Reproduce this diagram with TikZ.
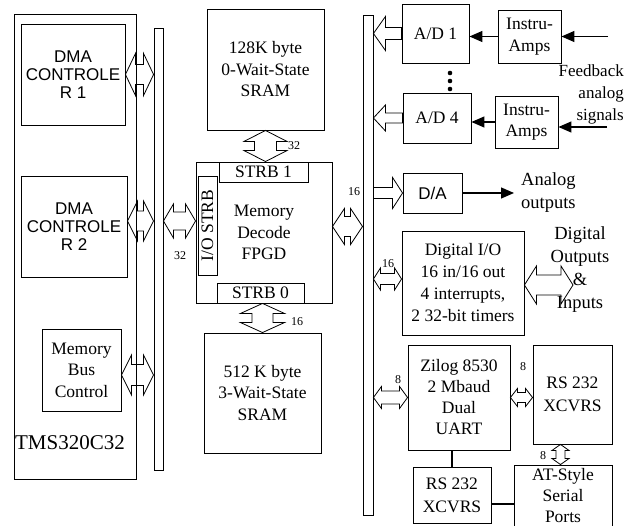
\documentclass[tikz,border=0pt]{standalone}
\usepackage{fontspec}
\setmainfont{Liberation Serif}
\setsansfont{Liberation Sans}
\usetikzlibrary{calc,arrows.meta}

% hollow double-headed bus arrow: ends, half shaft, half head, head length
\newcommand{\fatdbl}[5]{%
  \draw[fat] (#1)
    -- ($(#1)!#5!(#2)!#4!90:(#2)$)
    -- ($(#1)!#5!(#2)!#3!90:(#2)$)
    -- ($(#2)!#5!(#1)!#3!-90:(#1)$)
    -- ($(#2)!#5!(#1)!#4!-90:(#1)$)
    -- (#2)
    -- ($(#2)!#5!(#1)!#4!90:(#1)$)
    -- ($(#2)!#5!(#1)!#3!90:(#1)$)
    -- ($(#1)!#5!(#2)!#3!-90:(#2)$)
    -- ($(#1)!#5!(#2)!#4!-90:(#2)$)
    -- cycle;}
% hollow single-headed bus arrow, tip at the second end
\newcommand{\fatone}[5]{%
  \draw[fat] ($(#1)!#3!90:(#2)$)
    -- ($(#2)!#5!(#1)!#3!-90:(#1)$)
    -- ($(#2)!#5!(#1)!#4!-90:(#1)$)
    -- (#2)
    -- ($(#2)!#5!(#1)!#4!90:(#1)$)
    -- ($(#2)!#5!(#1)!#3!90:(#1)$)
    -- ($(#1)!#3!-90:(#2)$)
    -- cycle;}

\begin{document}
\begin{tikzpicture}[x=1pt,y=-1pt,
    blk/.style={draw,line width=0.9pt,inner sep=0pt,align=center,
      font=\fontsize{17.5}{21.5}\selectfont},
    sblk/.style={blk,font=\sffamily\fontsize{17}{18}\selectfont},
    txt/.style={inner sep=0pt,align=center,font=\fontsize{18.5}{23}\selectfont},
    num/.style={inner sep=0pt,font=\fontsize{12}{14}\selectfont},
    fat/.style={line width=0.8pt},
    sig/.style={line width=1.3pt,-{Triangle[length=13pt,width=11pt]}}]
    \useasboundingbox (0,0) rectangle (633,526);

    % processor side
    \node[blk,minimum width=122pt,minimum height=465pt] (tms) at (75,246.5) {};
    \node[txt,font=\fontsize{21}{24}\selectfont] (tmsname) at (70,443) {TMS320C32};
    \node[sblk,minimum width=104pt,minimum height=101pt] (dma1) at (73,74.5) {DMA\\CONTROLE\\R 1};
    \node[sblk,minimum width=106pt,minimum height=101pt] (dma2) at (74,226.5) {DMA\\CONTROLE\\R 2};
    \node[blk,minimum width=79pt,minimum height=82pt] (mbc) at (81.5,370) {Memory\\Bus\\Control};
    \node[blk,minimum width=9pt,minimum height=442pt] (bus1) at (158.5,249) {};

    % memory
    \node[blk,minimum width=117pt,minimum height=121pt] (sram1) at (265.5,69.5) {128K byte\\0-Wait-State\\SRAM};
    \node[blk,minimum width=136pt,minimum height=141pt] (dec) at (264,232.5) {Memory\\Decode\\FPGD};
    \node[blk,minimum width=89pt,minimum height=20pt] (strb1) at (263.5,172) {STRB 1};
    \node[blk,minimum width=87pt,minimum height=20pt] (strb0) at (260.5,293) {STRB 0};
    \node[blk,rotate=90,minimum width=99pt,minimum height=19pt] (iostrb) at (207.5,225.5) {I/O STRB};
    \node[blk,minimum width=117pt,minimum height=120pt] (sram2) at (262.5,393) {512 K byte\\3-Wait-State\\SRAM};

    % i/o side
    \node[blk,minimum width=10pt,minimum height=500pt] (bus2) at (368,265) {};
    \node[blk,minimum width=67pt,minimum height=59pt] (ad1) at (435.5,33.5) {A/D 1};
    \node[blk,minimum width=63pt,minimum height=53pt] (amp1) at (529.5,36.5) {Instru-\\Amps};
    \node[blk,minimum width=68pt,minimum height=50pt] (ad4) at (437,118) {A/D 4};
    \node[blk,minimum width=63pt,minimum height=52pt] (amp2) at (526.5,122) {Instru-\\Amps};
    \node[txt,align=right,anchor=east,font=\fontsize{17}{22}\selectfont] (fb) at (624,94) {Feedback\\analog\\signals};
    \node[sblk,minimum width=59pt,minimum height=40pt] (da) at (432.5,193) {D/A};
    \node[txt,align=left,anchor=west] (aout) at (521,192.5) {Analog\\outputs};
    \node[blk,minimum width=122pt,minimum height=104pt,font=\fontsize{17.5}{22}\selectfont] (dio) at (463,283) {Digital I/O\\16 in/16 out\\4 interrupts,\\2 32-bit timers};
    \node[txt] (dout) at (580,270) {Digital\\Outputs\\\&\\Inputs};
    \node[blk,minimum width=102pt,minimum height=105pt,font=\fontsize{17.5}{21}\selectfont] (zilog) at (459,397.5) {Zilog 8530\\2 Mbaud\\Dual\\UART};
    \node[blk,minimum width=79pt,minimum height=99pt,font=\fontsize{17.5}{23}\selectfont] (rs1) at (572.5,394.5) {RS 232\\XCVRS};
    \node[blk,minimum width=78pt,minimum height=56pt,font=\fontsize{17.5}{23}\selectfont] (rs2) at (452,495) {RS 232\\XCVRS};
    \node[blk,minimum width=98pt,minimum height=62pt,font=\fontsize{17.5}{21}\selectfont] (at) at (563,496) {AT-Style\\Serial\\Ports};

    \fill (450,73) circle (2.3);
    \fill (450,81) circle (2.3);
    \fill (450,89) circle (2.3);

    % bus arrows
    \coordinate (d2a) at ([yshift=5.5pt]dma2.east);
    \coordinate (mba) at ([yshift=-5pt]mbc.east);
    \coordinate (b1a) at (bus1.west |- dma1.east);
    \coordinate (b1b) at (bus1.west |- d2a);
    \coordinate (b1c) at (bus1.west |- mba);
    \coordinate (b1d) at (bus1.east |- d2a);
    \coordinate (deca) at (dec.west |- d2a);
    \coordinate (s1d) at (sram1.south |- dec.north);
    \coordinate (s2d) at (sram2.north |- dec.south);
    \coordinate (deb) at ([yshift=6pt]dec.east);
    \coordinate (b2a) at (bus2.west |- deb);
    \coordinate (b2b) at (bus2.east |- ad1.west);
    \coordinate (b2c) at (bus2.east |- ad4.west);
    \coordinate (b2d) at (bus2.east |- da.west);
    \coordinate (dioa) at ([yshift=4pt]dio.west);
    \coordinate (b2e) at (bus2.east |- dioa);
    \coordinate (diob) at ([yshift=-2pt]dio.east);
    \coordinate (dtip) at (573,285);
    \coordinate (b2f) at (bus2.east |- zilog.west);
    \coordinate (rsa) at (rs1.west |- zilog.east);
    \coordinate (rsb) at ([xshift=-12pt]rs1.south);
    \coordinate (ata) at (rsb |- at.north);

    \fatdbl{dma1.east}{b1a}{10pt}{21pt}{10pt}
    \fatdbl{d2a}{b1b}{10pt}{20pt}{10pt}
    \fatdbl{mba}{b1c}{10.5pt}{20pt}{10pt}
    \fatdbl{b1d}{deca}{9pt}{17pt}{10pt}
    \fatdbl{sram1.south}{s1d}{11pt}{21.5pt}{11pt}
    \fatdbl{s2d}{sram2.north}{10.5pt}{22pt}{10pt}
    \fatdbl{deb}{b2a}{10pt}{18pt}{12pt}
    \fatone{ad1.west}{b2b}{6pt}{17pt}{12pt}
    \fatone{ad4.west}{b2c}{5pt}{13pt}{12pt}
    \fatone{b2d}{da.west}{5.5pt}{15.5pt}{10pt}
    \fatdbl{b2e}{dioa}{5.5pt}{11pt}{7pt}
    \fatdbl{diob}{dtip}{10pt}{19pt}{12pt}
    \fatdbl{b2f}{zilog.west}{6.5pt}{11pt}{8pt}
    \fatdbl{zilog.east}{rsa}{5pt}{9pt}{7pt}
    \fatdbl{rsb}{ata}{4.5pt}{8.5pt}{6pt}

    % bus widths
    \node[num] (w1) at (180,256) {32};
    \node[num] (w2) at (294,146) {32};
    \node[num] (w3) at (297,322) {16};
    \node[num] (w4) at (354,192) {16};
    \node[num] (w5) at (388,264) {16};
    \node[num] (w6) at (398,380) {8};
    \node[num] (w7) at (523,367) {8};
    \node[num] (w8) at (543,456) {8};

    % signal lines
    \coordinate (in1) at (608,36.5);
    \coordinate (in2) at (607,127);
    \draw[sig] (amp1.west) -- (amp1.west -| ad1.east);
    \draw[sig] (in1) -- (in1 -| amp1.east);
    \draw[sig] (amp2.west) -- (amp2.west -| ad4.east);
    \draw[sig] (in2) -- (in2 -| amp2.east);
    \draw[sig,shorten >=7pt] (da.east) -- (da.east -| aout.west);
    \draw[line width=1.3pt] (rs2.north) -- (rs2.north |- zilog.south);
    \draw[line width=1.3pt] ([yshift=-9pt]rs2.east) -- ([yshift=-9pt]rs2.east -| at.west);
\end{tikzpicture}
\end{document}
